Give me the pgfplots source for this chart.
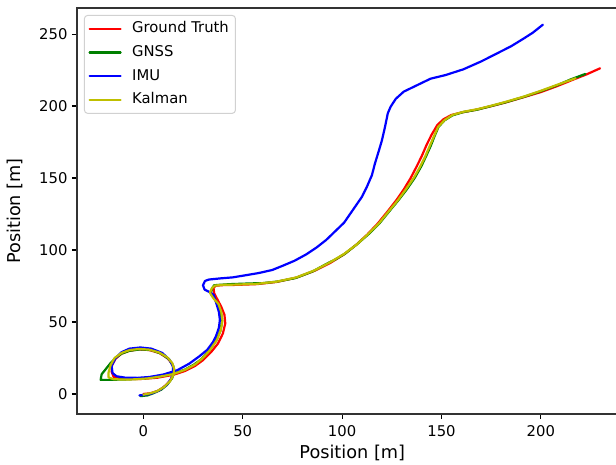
\documentclass[border=0pt]{standalone}
\usepackage{pgfplots}
\pgfplotsset{compat=1.18}
\usepackage{fontspec}
\setmainfont{DejaVu Sans}
\definecolor{mplred}{rgb}{1,0,0}
\definecolor{mplgreen}{rgb}{0,0.5,0}
\definecolor{mplblue}{rgb}{0,0,1}
\definecolor{mplyellow}{rgb}{0.75,0.75,0}
\begin{document}
\begin{tikzpicture}
\begin{axis}[
  at={(0,0)}, anchor=south west,
  width=550.5pt, height=406pt, scale only axis,
  xmin=-33.4, xmax=243.6, ymin=-13.9, ymax=268.1,
  xtick={0,50,100,150,200}, ytick={0,50,100,150,200,250},
  xtick pos=left, ytick pos=left,
  tick align=outside, major tick length=5pt,
  tick style={black, line width=1.1pt},
  axis line style={line width=1.2pt, black!80},
  /pgf/number format/assume math mode=true,
  tick label style={font=\fontsize{14.8}{17}\selectfont},
  xticklabel style={yshift=-3pt},
  yticklabel style={xshift=-1pt},
  label style={font=\fontsize{17.7}{21}\selectfont},
  xlabel={Position [m]}, ylabel={Position [m]},
  xlabel style={at={(axis description cs:0.5,-0.097)}, anchor=center},
  ylabel style={at={(axis description cs:-0.1126,0.5)}, anchor=center},
  every axis plot/.append style={line width=2.2pt, line join=round, line cap=round},
  legend cell align=left,
  legend image code/.code={\draw[#1] (0pt,0pt) -- (31pt,0pt);},
  legend style={at={(0,1)}, anchor=north west, xshift=7pt, yshift=-7pt,
    draw=black!18, line width=1pt, rounded corners=3pt, fill=white,
    font=\fontsize{14.8}{17}\selectfont, inner xsep=4pt, inner ysep=3pt,
    row sep=2.6pt, column sep=8pt,
    nodes={inner sep=2.5pt, text height=12pt, text depth=4pt, anchor=west}},
]
\addplot[mplred] coordinates {
(0,0) (3.5,0.5) (7,2) (10,4.5) (13,8.5) (15,13) (15.5,17) (14.5,21) (12,25)
(8,28.5) (3,30.5) (-2,31) (-7,30) (-11,28) (-14,24.5) (-15.8,20) (-16,15.5)
(-15,12) (-12,10.7) (-7,10.3) (0,10.5) (7,11.3) (15,13.3) (21,16) (26,19.5)
(30,23.5) (34,29) (37.5,35) (40,42) (41.2,49) (40.8,55) (39.2,60.5) (37.3,65.5)
(35.6,70) (35.3,73.5) (36.3,75.2) (40,75.6) (47,75.8) (57,76.3) (67,77.8)
(77,80.8) (86,85.5) (94,91) (101,97) (107,103.5) (112.5,110.5) (118,118.5)
(123,127) (127.5,135) (131,142) (134.5,150) (137.5,158) (140,165) (142.5,173)
(145,180) (147.9,186.8) (151,190.8) (155,193.8) (160,195.5) (167,197.3)
(174.7,199.8) (181.8,202.3) (191.5,206.2) (200,209.7) (208.3,213.9)
(216,218.2) (223,222) (229.8,226.2)
};
\addlegendentry{Ground Truth}
\addplot[mplgreen] coordinates {
(-1.5,-1.5) (2,-1) (5,0.5) (9,3) (12,6.5) (14.5,11) (15.5,15.5) (15,19.5)
(13,24) (9,28) (4,30.5) (-1.5,31) (-7,30) (-11,28) (-14,25) (-16.6,21.3)
(-21,13.7) (-21.5,9.8) (-17.5,9.8) (-12,10) (-7,10.2) (0,10.8) (7.7,12)
(15,14) (21,17) (25.5,20.5) (29,24) (33,30) (36.5,37) (38.8,44) (39.5,50)
(39,56) (37.5,62) (35.5,67) (34,70) (34.6,73.5) (35.6,75.5) (38,75.8)
(43.8,76.3) (53.9,76.8) (60,77) (67,78) (76.5,80.5) (85,85) (93,91)
(96.7,93.5) (101.5,97.5) (107.5,104) (113.3,111) (118.8,118.5) (123.8,127)
(128.3,134.5) (132.5,142) (136.5,150) (139.8,158) (142.2,165) (144.5,172)
(146.5,179) (148.5,185.5) (151.5,190) (155.5,193.5) (161,195.8) (168,197.5)
(175,200) (182,202.5) (191.5,206.4) (200,210.3) (208.3,214.5) (215,218.5)
(222.4,222.3)
};
\addlegendentry{GNSS}
\addplot[mplblue] coordinates {
(-2,-1) (1,-0.5) (4,0.3) (8,2.5) (11.5,6) (14,10.5) (15,15) (14.8,19.5)
(13,24) (9.5,28.5) (4,31.5) (-1.5,32.3) (-7,31.5) (-11,29) (-14,25)
(-16,19.5) (-15.5,14.5) (-13.5,12.3) (-9,11.3) (-3,11.2) (3,11.8) (10,13.5)
(17,16.5) (23,21) (28,26) (32.1,30.6) (35,36) (36.5,40) (38,46) (38.5,51.5)
(38,57) (36.7,63) (35.4,68.8) (33,71) (30.8,72.5) (30,75.5) (31,78.5)
(33,79.5) (38.8,80.3) (45,81) (52,82.6) (58,84) (64.8,86.1) (70,89)
(76,92.5) (82,97) (87,101.6) (92,107) (96.5,113) (101,119) (105.5,128)
(110,137) (112.5,144) (115,152) (116.5,160) (118.5,169) (120,176)
(121.5,185) (123,195) (124.4,199.5) (127,205) (131,210) (137,214)
(144.5,219) (152,221.5) (161,225.5) (170,231) (178,236.6) (185,241.5)
(191.5,247) (196,251) (201,256.5)
};
\addlegendentry{IMU}
\addplot[mplyellow] coordinates {
(0,-0.5) (3.5,0.5) (7,2) (10.5,5) (13.5,9) (15.2,13.5) (15.5,17.5)
(14.5,21.5) (12,25.5) (8,28.8) (3,30.8) (-2,31.3) (-7,30.5) (-11,28.5)
(-14.5,25) (-16.5,20) (-17.5,15) (-17.5,11.5) (-15,10.3) (-10,10) (-4,10.2)
(2,10.8) (8,12) (15,13.8) (21,16.8) (26,20.5) (29.5,24.5) (33.5,30.5)
(37,37.5) (39,44.5) (39.8,51) (39.2,57) (37.8,62.5) (35.5,66) (34,69)
(33.5,70.5) (34.5,73.5) (36,75.3) (40,75.8) (47,76) (57,76.5) (67,78)
(77,81) (86,85.8) (94,91.5) (101,97.3) (107.5,104) (113,111)
(118.5,118.5) (123.5,127) (128,134.5) (132,142) (136,150) (139.3,158)
(141.8,165) (144,172) (146.2,179) (148.3,185.5) (151.5,190.2)
(155.5,193.8) (161,196) (168,197.8) (175,200.2) (182,202.8) (191.5,206.6)
(200,210.6) (208.3,214.8) (217.5,219.3)
};
\addlegendentry{Kalman}
\end{axis}
\pgfresetboundingbox
\path[use as bounding box] (-77pt,-51pt) rectangle (539pt,414pt);
\end{tikzpicture}
\end{document}
